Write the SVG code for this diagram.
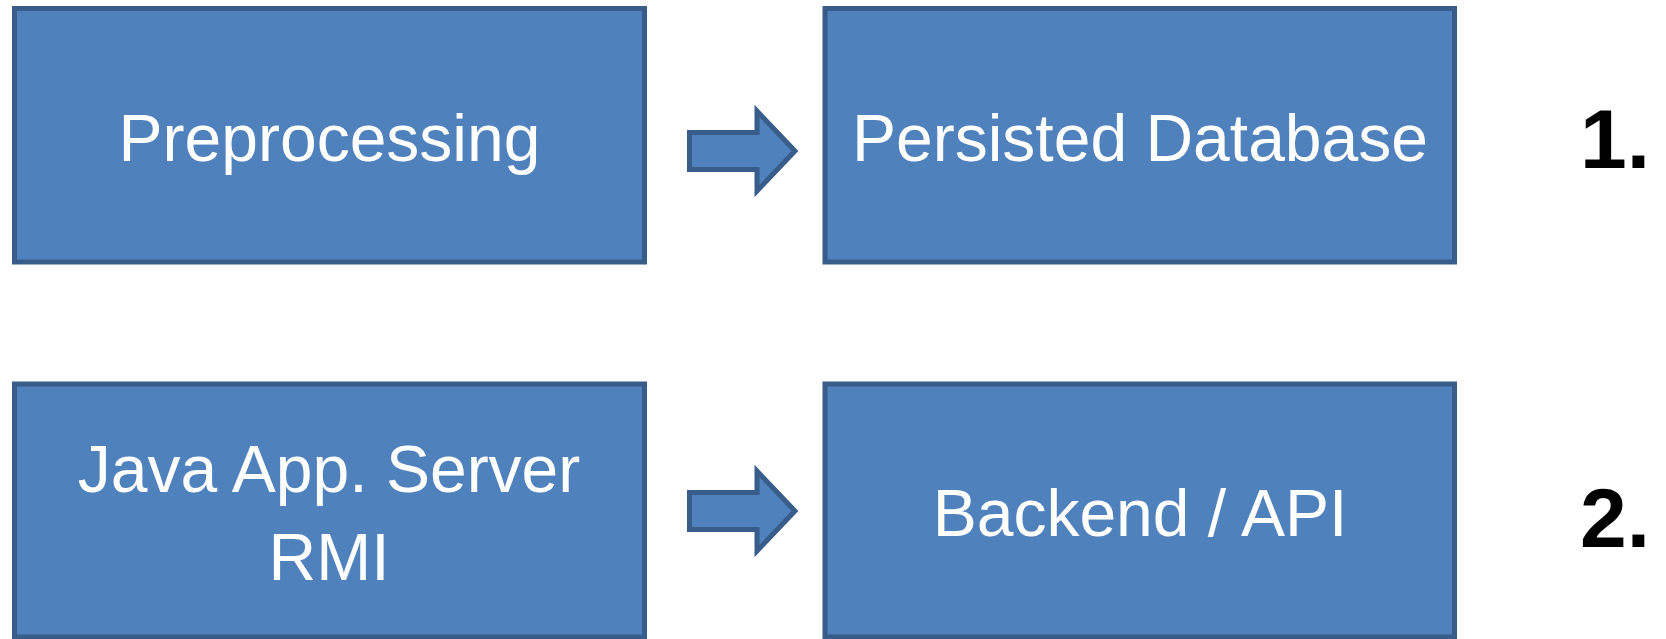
<svg xmlns="http://www.w3.org/2000/svg" width="1666" height="639" viewBox="0 0 1666 639">
<style>
.box{fill:#4F81BD;stroke:#385D8A;stroke-width:5}
.arrow{fill:#4F81BD;stroke:#385D8A;stroke-width:5;stroke-linejoin:miter}
.lbl{font-family:"Liberation Sans",Arial,sans-serif;font-size:66px;fill:#FFFFFF;text-anchor:middle}
.num{font-family:"Liberation Sans",Arial,sans-serif;font-size:84px;font-weight:bold;fill:#000000;text-anchor:end}
</style>
<rect width="1666" height="639" fill="#FFFFFF"/>
<g id="preprocessing">
<rect class="box" x="14.5" y="8.5" width="630" height="253.5"/>
<text class="lbl" x="329.5" y="161">Preprocessing</text>
</g>
<g id="persisted-database">
<rect class="box" x="825" y="8.5" width="629.5" height="253.5"/>
<text class="lbl" x="1140" y="161">Persisted Database</text>
</g>
<g id="java-app-server">
<rect class="box" x="14.5" y="384" width="630" height="253"/>
<text class="lbl" x="329" y="492">Java App. Server</text>
<text class="lbl" x="329" y="580">RMI</text>
</g>
<g id="backend-api">
<rect class="box" x="825" y="384" width="629.5" height="253"/>
<text class="lbl" x="1140" y="536">Backend / API</text>
</g>
<g id="connectors">
<polygon class="arrow" points="689.5,132.5 757,132.5 757,111 795,151 757,191 757,169.5 689.5,169.5"/>
<polygon class="arrow" points="689.5,492.5 757,492.5 757,471 795,511 757,551 757,529.5 689.5,529.5"/>
</g>
<g id="label-1"><text class="num" x="1650" y="168">1.</text></g>
<g id="label-2"><text class="num" x="1650" y="547">2.</text></g>
</svg>
